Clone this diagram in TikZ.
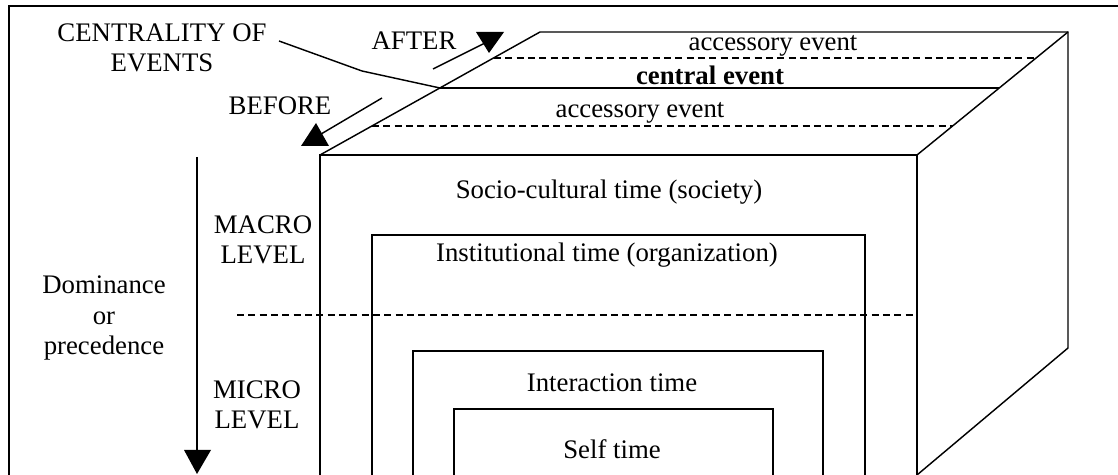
\documentclass[tikz,border=0pt]{standalone}
\usepackage{fontspec}
\setmainfont{Liberation Serif}
\usetikzlibrary{positioning}

\tikzset{
  lbl/.style={font=\fontsize{13}{14.6}\selectfont, align=center, inner sep=0pt},
  evline/.style={dash pattern=on 3.4pt off 2.1pt},
  tip/.style={fill=black},
}

\begin{document}
\begin{tikzpicture}[x=0.4854pt, y=-0.4854pt, line width=0.7pt]
		\useasboundingbox (0,0) rectangle (1118,475);
		% frame
		\draw (9,475) -- (9,6) -- (1118,6);

		% the box
		\draw (320,155) -- (540,32) -- (1068,32) -- (1068,348) -- (917,475);
		\draw (320,475) -- (320,155) -- (917,155) -- (917,475);
		\draw (917,155) -- (1068,32);

		% events on the top face
		\draw [evline] (494,58) -- (1034,58);
		\draw (440,88) -- (999,88);
		\draw [evline] (372,126) -- (953,126);
		\node[lbl] (acc1) at (773,46) {accessory event};
		\node[lbl, font=\fontsize{13}{14.6}\selectfont\bfseries] (central) at (710,75) {central event};
		\node[lbl] (acc2) at (640,113) {accessory event};

		% centrality
		\node[lbl] (centrality) at (162,48) {CENTRALITY OF\\EVENTS};
		\coordinate (lead) at (279,41);
		\coordinate (bend) at (362,71);
		\coordinate (hit) at (440,88);
		\draw (lead) -- (bend) -- (hit);

		\node[lbl] (after) at (414,41) {AFTER};
		\coordinate (afterfrom) at (433,69);
		\coordinate (afterto) at (489,41);
		\draw (afterfrom) -- (afterto);
		\fill [tip] (476,32) -- (504,32) -- (489,53) -- cycle;

		\node[lbl] (before) at (280,106) {BEFORE};
		\coordinate (beforefrom) at (382,98);
		\coordinate (beforeto) at (316,137);
		\draw (beforefrom) -- (beforeto);
		\fill [tip] (301,146) -- (329,146) -- (316,123) -- cycle;

		% dominance
		\node[lbl] (dominance) at (104,318) {Dominance\\or\\precedence};
		\coordinate (domtop) at (197,157);
		\coordinate (dombot) at (197,455);
		\draw (domtop) -- (dombot);
		\fill [tip] (184,450) -- (211,450) -- (197,474) -- cycle;

		\node[lbl] (macro) at (263,240) {MACRO\\LEVEL};
		\node[lbl] (micro) at (257,405) {MICRO\\LEVEL};
		\draw [evline] (237,315) -- (917,315);

		% nested times
		\node[lbl] (socio) at (609,192) {Socio-cultural time (society)};
		\draw (372,475) -- (372,235) -- (865,235) -- (865,475);
		\node[lbl] (instit) at (607,255) {Institutional time (organization)};
		\draw (413,475) -- (413,351) -- (823,351) -- (823,475);
		\node[lbl] (interact) at (612,383) {Interaction time};
		\draw (454,475) -- (454,409) -- (773,409) -- (773,475);
		\node[lbl] (self) at (612,449) {Self time};
\end{tikzpicture}
\end{document}
